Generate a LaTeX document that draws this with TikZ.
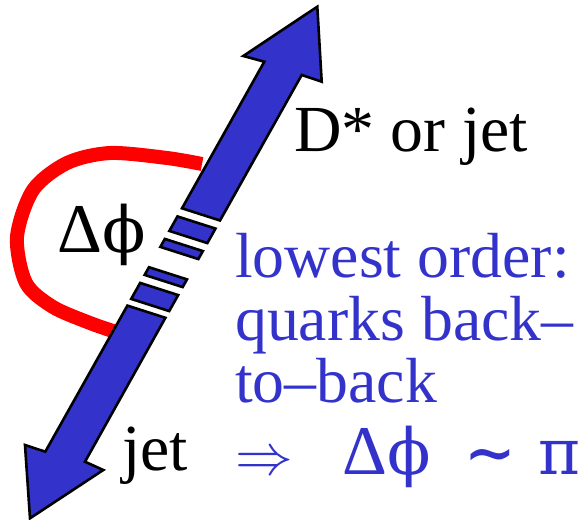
\documentclass[tikz,border=0pt]{standalone}
\usepackage{fix-cm}
\usepackage{fontspec}
\IfFontExistsTF{LiberationSerif-Regular.ttf}{\setmainfont{LiberationSerif-Regular.ttf}}{\setmainfont{Liberation Serif}}
\newfontfamily\greekfont{DejaVu Serif}
\usepackage{xcolor}
\definecolor{ArrBlue}{RGB}{51,51,204}
\definecolor{PhiRed}{RGB}{255,0,0}
\usepackage{tikz}
\newcommand{\dphi}{{\fontsize{70}{70}\selectfont Δ}{\greekfont\fontsize{64}{64}\selectfont ϕ}}

\begin{document}
\begin{tikzpicture}[x=1bp, y=-1bp]
\tikzstyle{piece}=[draw=black, fill=ArrBlue, line width=2.6bp, line join=miter]
\tikzstyle{blk}=[inner sep=0pt, anchor=base west, text=black, font=\fontsize{66}{66}\selectfont]
\tikzstyle{note}=[inner sep=0pt, text=ArrBlue, font=\fontsize{64}{63}\selectfont]

\useasboundingbox (0,0) rectangle (583,520);

% opening angle between the two jets
\draw[PhiRed, line width=14bp] plot[smooth] coordinates {(202,164) (167,158) (110,153) (67,163) (33,190) (17,237) (26,283) (53,307) (90,323) (116,332)};

% upper half with head
\draw[piece] (317.3,6.7) -- (321.7,81.7) -- (301.7,75) -- (220,220.5) -- (182,208.3) -- (264.3,61.7) -- (243.3,56) -- cycle;
% the cut pieces in the middle
\foreach \ya/\yb in {222.5/237, 245/253, 273.3/281, 289/305}
  \draw[piece] ({302.3-0.561*\ya},{\ya-6.08}) -- ({340.3-0.561*\ya},{\ya+6.08}) -- ({340.3-0.561*\yb},{\yb+6.08}) -- ({302.3-0.561*\yb},{\yb-6.08}) -- cycle;
% lower half with head
\draw[piece] (127.4,305.6) -- (165.4,317.8) -- (85,461.7) -- (103.3,470) -- (30,518.3) -- (25,445) -- (45.3,451.7) -- cycle;

\node[blk] (dstar) at (294,152) {D* or jet};
\node[blk] (dphi) at (57,252) {\dphi};
\node[blk] (jet) at (122,470) {jet};
\node[note, anchor=north west, align=left] (order) at (235,233) {lowest order:\\quarks back--\\to--back};
\node[note, anchor=base west] (result) at (235,474) {\makebox[107bp][l]{\fontsize{58}{58}\selectfont$\Rightarrow$}\makebox[122bp][l]{\dphi}\makebox[74bp][l]{\greekfont\fontsize{62}{62}\selectfont\bfseries ∼}{\greekfont π}};
\end{tikzpicture}
\end{document}
